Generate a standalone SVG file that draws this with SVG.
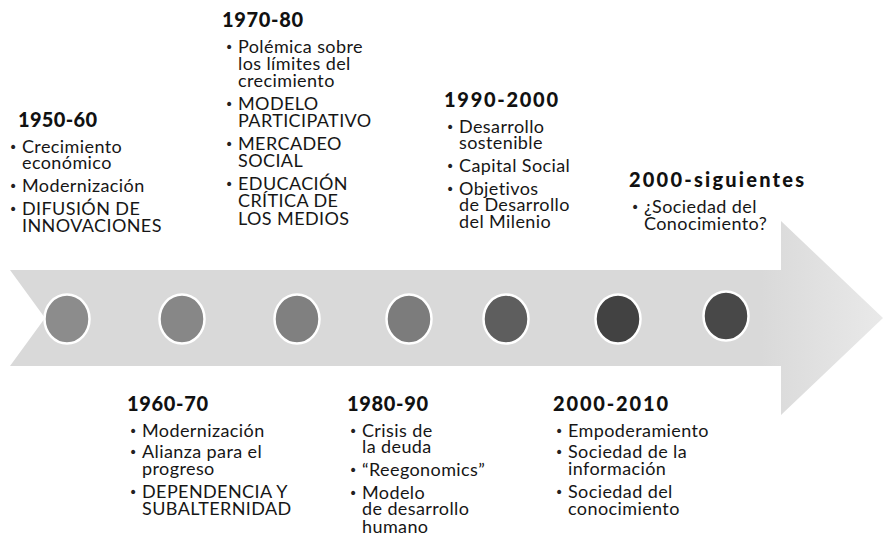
<svg xmlns="http://www.w3.org/2000/svg" width="883" height="539" viewBox="0 0 883 539">
<defs>
<linearGradient id="ag" x1="0" y1="0" x2="1" y2="0">
<stop offset="0" stop-color="#d9d9d9"/>
<stop offset="0.86" stop-color="#d9d9d9"/>
<stop offset="1" stop-color="#e9e9e9"/>
</linearGradient>
</defs>
<style>
.h{font-family:Lato,"Liberation Sans",sans-serif;font-weight:900;font-size:20px;fill:#111}
.t{font-family:Lato,"Liberation Sans",sans-serif;font-size:18px;letter-spacing:0.4px;fill:#161616}
.b{font-family:"DejaVu Sans",sans-serif;font-size:14px;fill:#222}
.dot{stroke:#fff;stroke-width:2.5}
</style>
<rect width="883" height="539" fill="#fff"/>
<g id="arrow">
<polygon points="10,270 781,270 781,221 883,318 781,415 781,366 10,366 45,318" fill="url(#ag)"/>
</g>
<g id="dots">
<ellipse class="dot" cx="67" cy="319" rx="22.5" ry="24.5" fill="#8c8c8c"/>
<ellipse class="dot" cx="182" cy="319" rx="22.5" ry="24.5" fill="#878787"/>
<ellipse class="dot" cx="297" cy="319" rx="22.5" ry="24.5" fill="#808080"/>
<ellipse class="dot" cx="409" cy="319" rx="22.5" ry="24.5" fill="#7c7c7c"/>
<ellipse class="dot" cx="506" cy="319" rx="22.5" ry="24.5" fill="#5e5e5e"/>
<ellipse class="dot" cx="618" cy="319" rx="22.5" ry="24.5" fill="#424242"/>
<ellipse class="dot" cx="726" cy="316" rx="22.5" ry="24.5" fill="#484848"/>
</g>
<g id="n1950">
<text class="h" x="18" y="127" textLength="79" lengthAdjust="spacing">1950-60</text>
<text class="b"><tspan x="9" y="152">•</tspan><tspan x="9" y="191">•</tspan><tspan x="9" y="214">•</tspan></text>
<text class="t"><tspan x="22" y="153">Crecimiento</tspan><tspan x="22" y="169">económico</tspan><tspan x="22" y="192">Modernización</tspan><tspan x="22" y="215">DIFUSIÓN DE</tspan><tspan x="22" y="232">INNOVACIONES</tspan></text>
</g>
<g id="n1970">
<text class="h" x="222" y="27" textLength="81" lengthAdjust="spacing">1970-80</text>
<text class="b"><tspan x="225" y="52">•</tspan><tspan x="225" y="109">•</tspan><tspan x="225" y="149">•</tspan><tspan x="225" y="189">•</tspan></text>
<text class="t"><tspan x="238" y="53">Polémica sobre</tspan><tspan x="238" y="70">los límites del</tspan><tspan x="238" y="87">crecimiento</tspan><tspan x="238" y="110">MODELO</tspan><tspan x="238" y="127">PARTICIPATIVO</tspan><tspan x="238" y="150">MERCADEO</tspan><tspan x="238" y="167">SOCIAL</tspan><tspan x="238" y="190">EDUCACIÓN</tspan><tspan x="238" y="207">CRÍTICA DE</tspan><tspan x="238" y="225">LOS MEDIOS</tspan></text>
</g>
<g id="n1990">
<text class="h" x="444" y="107" textLength="114" lengthAdjust="spacing">1990-2000</text>
<text class="b"><tspan x="446" y="132">•</tspan><tspan x="446" y="171">•</tspan><tspan x="446" y="194">•</tspan></text>
<text class="t"><tspan x="459" y="133">Desarrollo</tspan><tspan x="459" y="149">sostenible</tspan><tspan x="459" y="172">Capital Social</tspan><tspan x="459" y="195">Objetivos</tspan><tspan x="459" y="211">de Desarrollo</tspan><tspan x="459" y="228">del Milenio</tspan></text>
</g>
<g id="n2000s">
<text class="h" x="629" y="187" textLength="175" lengthAdjust="spacing">2000-siguientes</text>
<text class="b"><tspan x="631" y="212">•</tspan></text>
<text class="t"><tspan x="644" y="213">¿Sociedad del</tspan><tspan x="644" y="230">Conocimiento?</tspan></text>
</g>
<g id="n1960">
<text class="h" x="127" y="411" textLength="81" lengthAdjust="spacing">1960-70</text>
<text class="b"><tspan x="129" y="436">•</tspan><tspan x="129" y="457">•</tspan><tspan x="129" y="497">•</tspan></text>
<text class="t"><tspan x="142" y="437">Modernización</tspan><tspan x="142" y="458">Alianza para el</tspan><tspan x="142" y="475">progreso</tspan><tspan x="142" y="498">DEPENDENCIA Y</tspan><tspan x="142" y="515">SUBALTERNIDAD</tspan></text>
</g>
<g id="n1980">
<text class="h" x="347" y="411" textLength="81" lengthAdjust="spacing">1980-90</text>
<text class="b"><tspan x="349" y="436">•</tspan><tspan x="349" y="475">•</tspan><tspan x="349" y="498">•</tspan></text>
<text class="t"><tspan x="362" y="437">Crisis de</tspan><tspan x="362" y="453">la deuda</tspan><tspan x="362" y="476">“Reegonomics”</tspan><tspan x="362" y="499">Modelo</tspan><tspan x="362" y="515">de desarrollo</tspan><tspan x="362" y="533">humano</tspan></text>
</g>
<g id="n2010">
<text class="h" x="553" y="411" textLength="115" lengthAdjust="spacing">2000-2010</text>
<text class="b"><tspan x="555" y="436">•</tspan><tspan x="555" y="457">•</tspan><tspan x="555" y="497">•</tspan></text>
<text class="t"><tspan x="568" y="437">Empoderamiento</tspan><tspan x="568" y="458">Sociedad de la</tspan><tspan x="568" y="475">información</tspan><tspan x="568" y="498">Sociedad del</tspan><tspan x="568" y="515">conocimiento</tspan></text>
</g>
</svg>
